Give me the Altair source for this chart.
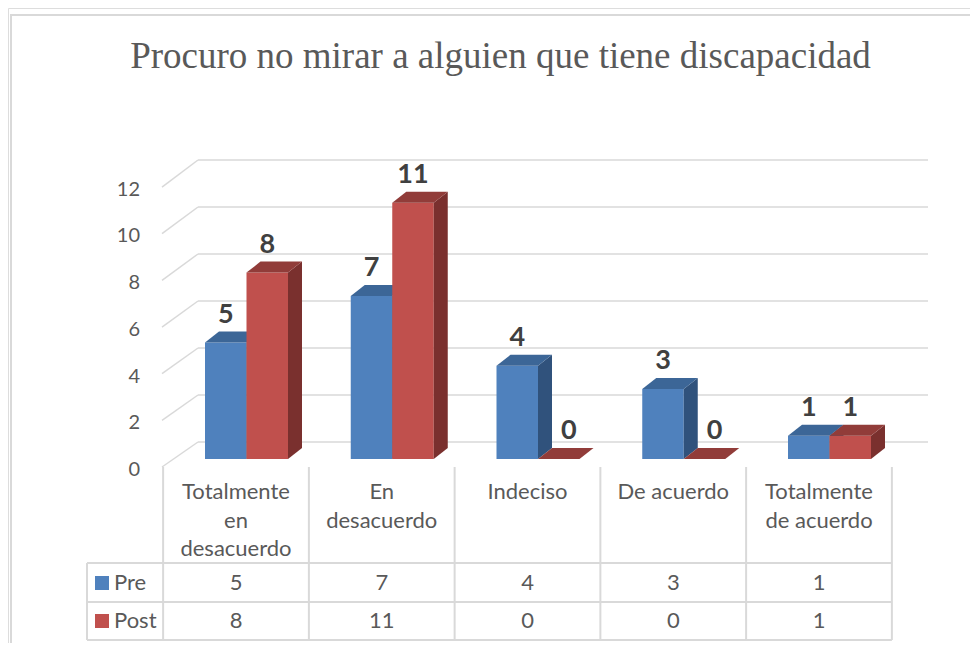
import altair as alt
import pandas as pd

# ---------------- data ----------------
title_text = "Procuro no mirar a alguien que tiene discapacidad"
categories = ["Totalmente en desacuerdo", "En desacuerdo", "Indeciso", "De acuerdo", "Totalmente de acuerdo"]
category_lines = [["Totalmente", "en", "desacuerdo"], ["En", "desacuerdo"], ["Indeciso"], ["De acuerdo"], ["Totalmente", "de acuerdo"]]
series = ["Pre", "Post"]
pre_values = [5, 7, 4, 3, 1]
post_values = [8, 11, 0, 0, 1]
y_ticks = [0, 2, 4, 6, 8, 10, 12]

# ---------------- styling / layout ----------------
FRONT = ["#4F81BD", "#C0504D"]
TOP = ["#3C6697", "#913C39"]
SIDE = ["#30527C", "#7A302E"]
GRID = "#D9D9D9"
TXT = "#595959"
LBL = "#404040"
SANS = "Lato"
SERIF = "Liberation Serif"

W, H = 962, 635            # plot area (page offset 8px)
PX_CAT = 145.75            # px per category
CAT0 = 228.0               # plot x of category 0 centre
PX_VAL = 23.3              # px per unit value
BASE = 451.0               # plot y of value 0 (bar front)
BAR_OFF = [-31.0, 10.5]    # bar left edge offsets from column centre (px)
BAR_W = 41.5
DDX, DDY = 14.0, 11.0      # depth of bars (px)
ZERO_LBL_DX = 10.0         # label shift for flat (zero) bars


def ux(px):
    return (px - CAT0) / PX_CAT


def vy(py):
    return (BASE - py) / PX_VAL


XS = alt.Scale(domain=[ux(0), ux(W)], nice=False, zero=False)
YS = alt.Scale(domain=[vy(H), vy(0)], nice=False, zero=False)


def X(f):
    return alt.X(f"{f}:Q", scale=XS, axis=None)


def Y(f):
    return alt.Y(f"{f}:Q", scale=YS, axis=None, stack=None)


values = [pre_values, post_values]
ddx_u = DDX / PX_CAT
ddy_u = DDY / PX_VAL

# ---------------- frame & title ----------------
one = pd.DataFrame({"a": [0]})
frame = alt.Chart(one).mark_rect(fill="white", stroke=GRID, strokeWidth=2).encode(
    x=alt.value(3), x2=alt.value(1200), y=alt.value(7), y2=alt.value(900)
)
title = alt.Chart(pd.DataFrame({"t": [title_text]})).mark_text(
    font=SERIF, fontSize=37, color=TXT, align="center", baseline="alphabetic"
).encode(x=alt.value(492.5), y=alt.value(60.3), text="t:N")

# ---------------- walls / gridlines ----------------
back_rows, diag_rows = [], []
for v in y_ticks:
    yb = vy(434 - 23.5 * v)
    back_rows.append({"x": ux(190), "x2": ux(920), "y": yb})
    diag_rows.append({"x": ux(154), "y": vy(459 - 23.33 * v), "x2": ux(190), "y2": yb})
back = alt.Chart(pd.DataFrame(back_rows)).mark_rule(color=GRID, strokeWidth=1.5).encode(
    x=X("x"), x2="x2:Q", y=Y("y")
)
diag = alt.Chart(pd.DataFrame(diag_rows)).mark_rule(color=GRID, strokeWidth=1.5).encode(
    x=X("x"), x2="x2:Q", y=Y("y"), y2="y2:Q"
)
ylab = alt.Chart(pd.DataFrame({"v": y_ticks, "y": [vy(468 - 23.375 * v) for v in y_ticks],
                               "x": [ux(132)] * len(y_ticks)})).mark_text(
    font=SANS, fontSize=20, color=TXT, align="right", baseline="alphabetic"
).encode(x=X("x"), y=Y("y"), text="v:N")

# ---------------- 3D bars ----------------
bar_layers = []
label_rows = []
for s in range(2):
    fr, sd, tp = [], [], []
    for i, v in enumerate(values[s]):
        xl = i + BAR_OFF[s] / PX_CAT
        xr = xl + BAR_W / PX_CAT
        bid = f"{s}-{i}"
        fr.append({"x": xl, "x2": xr, "y": 0, "y2": v})
        sd.append({"id": bid, "x": xr, "y": 0, "y2": v})
        sd.append({"id": bid, "x": xr + ddx_u, "y": ddy_u, "y2": v + ddy_u})
        tp.append({"id": bid, "y": v, "x": xl, "x2": xr})
        tp.append({"id": bid, "y": v + ddy_u, "x": xl + ddx_u, "x2": xr + ddx_u})
        lx = (xl + xr) / 2 + (ZERO_LBL_DX / PX_CAT if v == 0 else 0)
        label_rows.append({"x": lx, "y": v + 20 / PX_VAL, "t": str(v)})
    bar_layers.append(alt.Chart(pd.DataFrame(fr)).mark_rect(color=FRONT[s]).encode(
        x=X("x"), x2="x2:Q", y=Y("y"), y2="y2:Q"))
    bar_layers.append(alt.Chart(pd.DataFrame(sd)).mark_area(orient="vertical", color=SIDE[s]).encode(
        x=X("x"), y=Y("y"), y2="y2:Q", detail="id:N"))
    bar_layers.append(alt.Chart(pd.DataFrame(tp)).mark_area(orient="horizontal", color=TOP[s]).encode(
        y=Y("y"), x=alt.X("x:Q", scale=XS, axis=None, stack=None), x2="x2:Q", detail="id:N"))

labels = alt.Chart(pd.DataFrame(label_rows)).mark_text(
    font=SANS, fontSize=27, fontWeight="bold", color=LBL, align="center", baseline="alphabetic"
).encode(x=X("x"), y=Y("y"), text="t:N")

# ---------------- data table ----------------
hl = pd.DataFrame({"y": [vy(p) for p in (555, 594, 632)], "x": [ux(79)] * 3, "x2": [4.5] * 3})
hlines = alt.Chart(hl).mark_rule(color=GRID, strokeWidth=2).encode(x=X("x"), x2="x2:Q", y=Y("y"))
vl_rows = [{"x": ux(79), "y": vy(555), "y2": vy(632)}]
for b in range(len(categories) + 1):
    vl_rows.append({"x": b - 0.5, "y": vy(459), "y2": vy(632)})
vlines = alt.Chart(pd.DataFrame(vl_rows)).mark_rule(color=GRID, strokeWidth=2).encode(
    x=X("x"), y=Y("y"), y2="y2:Q")

cat_rows = []
for i, lines in enumerate(category_lines):
    for j, ln in enumerate(lines):
        cat_rows.append({"x": i, "y": vy(491 + 28.5 * j), "t": ln})
cat_text = alt.Chart(pd.DataFrame(cat_rows)).mark_text(
    font=SANS, fontSize=22, color=TXT, align="center", baseline="alphabetic"
).encode(x=X("x"), y=Y("y"), text="t:N")

row_y = [575, 613]
val_rows, leg_rows = [], []
for s in range(2):
    for i, v in enumerate(values[s]):
        val_rows.append({"x": i, "y": vy(row_y[s]), "t": str(v)})
    leg_rows.append({"xs": ux(94), "xt": ux(106), "y": vy(row_y[s]), "t": series[s], "c": FRONT[s]})
val_text = alt.Chart(pd.DataFrame(val_rows)).mark_text(
    font=SANS, fontSize=22, color=TXT, align="center", baseline="middle"
).encode(x=X("x"), y=Y("y"), text="t:N")
leg_df = pd.DataFrame(leg_rows)
leg_sq = alt.Chart(leg_df).mark_square(size=196, opacity=1, strokeWidth=0).encode(
    x=X("xs"), y=Y("y"), color=alt.Color("c:N", scale=None))
leg_txt = alt.Chart(leg_df).mark_text(
    font=SANS, fontSize=22, color=TXT, align="left", baseline="middle"
).encode(x=X("xt"), y=Y("y"), text="t:N")

chart = alt.layer(
    frame, title, back, diag, ylab, *bar_layers, labels,
    hlines, vlines, cat_text, val_text, leg_sq, leg_txt
).properties(
    width=W, height=H, autosize=alt.AutoSizeParams(type="none"), padding=0
).configure_view(stroke=None).configure(background="white")

chart.save("out.html", embed_options={"renderer": "svg", "actions": False})
